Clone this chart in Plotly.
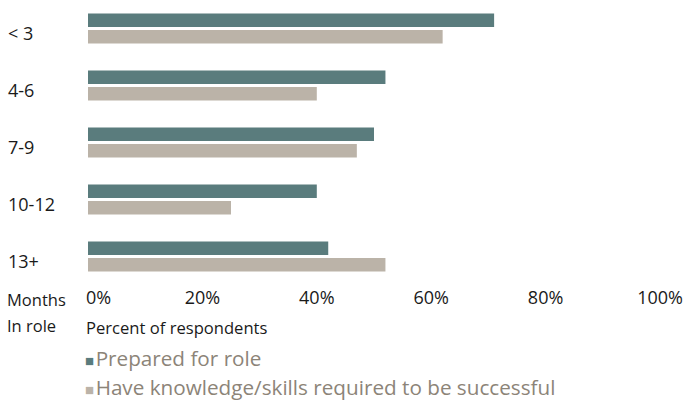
import plotly.graph_objects as go

categories = ["< 3", "4-6", "7-9", "10-12", "13+"]
prepared = [71, 52, 50, 40, 42]
knowledge = [62, 40, 47, 25, 52]
series_names = ["Prepared for role", "Have knowledge/skills required to be successful"]
series_colors = ["#5a7c7d", "#bbb3a8"]
tick_vals = [0, 20, 40, 60, 80, 100]
tick_text = ["0%", "20%", "40%", "60%", "80%", "100%"]

FONT = "Open Sans"
W, H = 689, 400
ML, MR, MT, MB = 88, 29, 0, 115
PW = W - ML - MR
PH = H - MT - MB

def px_x(p):
    return (p - ML) / PW

def px_y(p):
    return 1 - (p - MT) / PH

fig = go.Figure()
for name, vals, col in zip(series_names, [prepared, knowledge], series_colors):
    fig.add_trace(go.Bar(
        y=categories, x=vals, orientation="h", name=name,
        marker=dict(color=col, line=dict(width=0)), showlegend=False,
    ))

DARK = "#1a1a1a"
ann = []
for i, c in enumerate(categories):
    ann.append(dict(x=px_x(6), xref="paper", y=i, yref="y", yshift=-4, text=c.replace("<", "&lt;"),
                    showarrow=False, xanchor="left", yanchor="middle",
                    font=dict(family=FONT, size=18, color=DARK)))
ann.append(dict(x=tick_vals[0], xref="x", xshift=-4, y=px_y(297), yref="paper", text=tick_text[0],
                showarrow=False, xanchor="left", yanchor="middle",
                font=dict(family=FONT, size=18, color=DARK)))
ann.append(dict(x=px_x(5), xref="paper", y=px_y(299.5), yref="paper", text="Months", showarrow=False,
                xanchor="left", yanchor="middle", font=dict(family=FONT, size=16.5, color=DARK)))
ann.append(dict(x=px_x(5), xref="paper", y=px_y(325), yref="paper", text="In role", showarrow=False,
                xanchor="left", yanchor="middle", font=dict(family=FONT, size=16.5, color=DARK)))
ann.append(dict(x=px_x(84), xref="paper", y=px_y(327), yref="paper", text="Percent of respondents",
                showarrow=False, xanchor="left", yanchor="middle",
                font=dict(family=FONT, size=16.6, color=DARK)))
for i, (name, col) in enumerate(zip(series_names, series_colors)):
    ann.append(dict(x=px_x(83), xref="paper", y=px_y(357.5 + 29.5 * i), yref="paper",
                    text=(f'<span style="color:{col};font-size:15px">■</span>'
                          f'<span style="font-size:6px"> </span>{name}'),
                    showarrow=False, xanchor="left", yanchor="middle",
                    font=dict(family=FONT, size=20.7, color="#8c8478")))

fig.update_layout(
    width=W, height=H,
    margin=dict(l=ML, r=MR, t=MT, b=MB, pad=0),
    paper_bgcolor="white", plot_bgcolor="white",
    barmode="group", bargap=0.42, bargroupgap=0.18,
    xaxis=dict(range=[0, 100], tickvals=tick_vals[1:], ticktext=tick_text[1:],
               showgrid=False, zeroline=False, showline=False, ticks="",
               tickfont=dict(family=FONT, size=18, color=DARK), fixedrange=True),
    yaxis=dict(type="category", autorange="reversed", showticklabels=False, showgrid=False,
               zeroline=False, showline=False, ticks="", fixedrange=True),
    annotations=ann,
    font=dict(family=FONT),
)

fig.write_html("out.html", config={"displayModeBar": False},
               post_script="document.body.style.margin='0';document.body.style.overflow='hidden';")
